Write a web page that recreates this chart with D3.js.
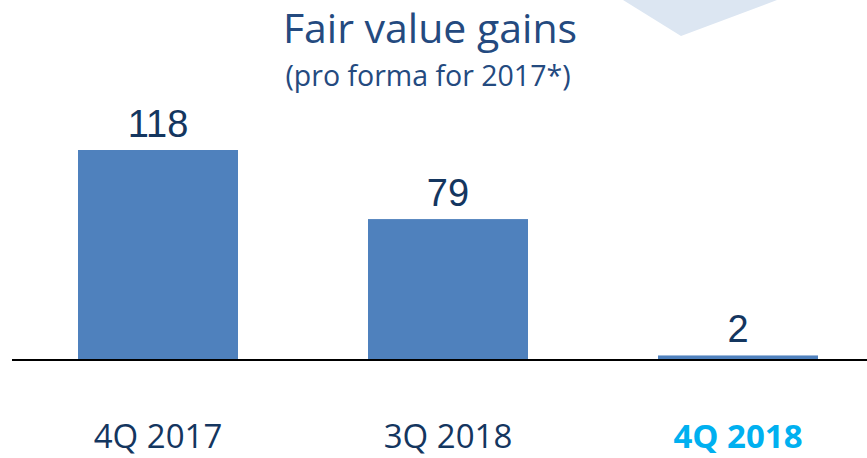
<!DOCTYPE html>
<html><head><meta charset="utf-8">
<script src="https://cdn.jsdelivr.net/npm/d3@7"></script>
<style>html,body{margin:0;padding:0;background:#fff;}svg{display:block;}</style>
</head><body>
<script>
const categories = ["4Q 2017", "3Q 2018", "4Q 2018"];
const values = [118, 79, 2];
const highlighted = [false, false, true];
const title = "Fair value gains";
const subtitle = "(pro forma for 2017*)";

const W = 867, H = 458;
const svg = d3.select("body").append("svg").attr("width", W).attr("height", H);

// decorative chevron at top
svg.append("polygon")
  .attr("points", "623,0 681,36 777,0")
  .attr("fill", "#dce6f2");

const x = d3.scaleBand().domain(categories).range([20, 876])
  .paddingInner(130/290).paddingOuter(0.2);
const y = d3.scaleLinear().domain([0, 118]).range([359, 150]);

svg.append("text").attr("x", 430).attr("y", 43).attr("text-anchor", "middle")
  .attr("font-family", "Open Sans, Noto Sans, sans-serif").attr("font-size", 41)
  .attr("fill", "#244a7f").text(title);
svg.append("text").attr("x", 428).attr("y", 86).attr("text-anchor", "middle")
  .attr("font-family", "Open Sans, Noto Sans, sans-serif").attr("font-size", 28.5)
  .attr("fill", "#244a7f").text(subtitle);

svg.selectAll("rect.bar").data(values).join("rect").attr("class", "bar")
  .attr("x", (d, i) => x(categories[i])).attr("width", x.bandwidth())
  .attr("y", d => y(d)).attr("height", d => y(0) - y(d))
  .attr("fill", "#4f81bd");

svg.append("line").attr("x1", 12).attr("x2", W).attr("y1", 360).attr("y2", 360)
  .attr("stroke", "#000").attr("stroke-width", 2);

svg.selectAll("text.val").data(values).join("text").attr("class", "val")
  .attr("x", (d, i) => x(categories[i]) + x.bandwidth() / 2)
  .attr("y", d => y(d) - 13).attr("text-anchor", "middle")
  .attr("font-family", "Liberation Sans, Arial, sans-serif").attr("font-size", 38)
  .attr("fill", "#14365f").text(d => d);

svg.selectAll("text.cat").data(categories).join("text").attr("class", "cat")
  .attr("x", d => x(d) + x.bandwidth() / 2).attr("y", 448).attr("text-anchor", "middle")
  .attr("font-family", "Open Sans, Noto Sans, sans-serif").attr("font-size", 33)
  .attr("font-weight", (d, i) => highlighted[i] ? "bold" : "normal")
  .attr("fill", (d, i) => highlighted[i] ? "#00b0f0" : "#14365f").text(d => d);
</script>
</body></html>
